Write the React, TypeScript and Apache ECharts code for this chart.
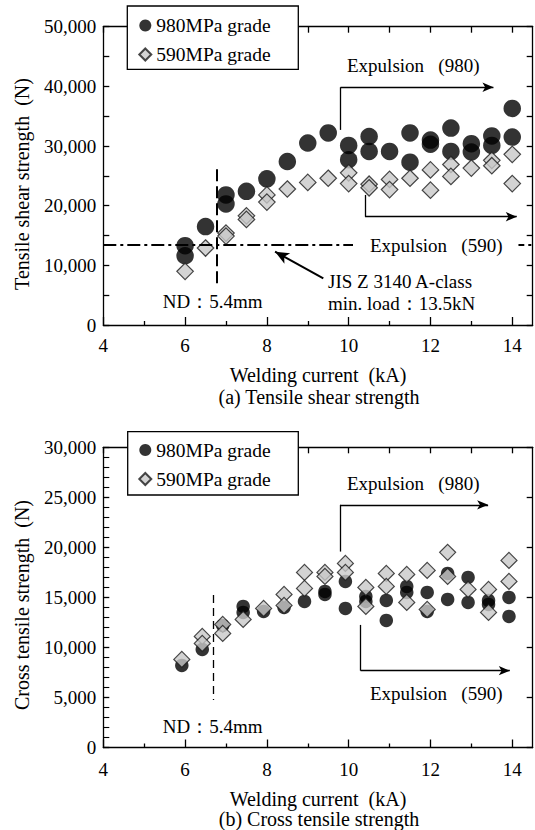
import React, { useEffect, useRef } from "react";
import * as echarts from "echarts";

const FONT = "Liberation Serif, Times New Roman, serif";

const currentMajorTicks = [4, 6, 8, 10, 12, 14];
const currentMinorTicks = [5, 7, 9, 11, 13];
const currentAllTicks = [4, 5, 6, 7, 8, 9, 10, 11, 12, 13, 14];
const tensileLabels = [0, 10000, 20000, 30000, 40000, 50000];
const crossLabels = [0, 5000, 10000, 15000, 20000, 25000, 30000];
const seriesNames = ["980MPa grade", "590MPa grade"];

// (a) Tensile shear strength: [welding current kA, load N]
const tensile980 = [
  [6.0, 13300], [6.0, 11600], [6.5, 16500], [7.0, 21800], [7.0, 20300],
  [7.5, 22400], [8.0, 24500], [8.5, 27400], [9.0, 30500], [9.5, 32200],
  [10.0, 30100], [10.0, 27700], [10.5, 31600], [10.5, 29100], [11.0, 29100],
  [11.5, 32200], [11.5, 27300], [12.0, 31000], [12.0, 30300], [12.5, 33000],
  [12.5, 29100], [13.0, 30400], [13.0, 29000], [13.5, 31700], [13.5, 30100],
  [14.0, 36300], [14.0, 31500],
];
const tensile590 = [
  [6.0, 9000], [6.5, 12900], [7.0, 15400], [7.0, 14900], [7.5, 18300],
  [7.5, 17700], [8.0, 21800], [8.0, 20600], [8.5, 22800], [9.0, 23900],
  [9.5, 24600], [10.0, 25500], [10.0, 23700], [10.5, 23600], [10.5, 23000],
  [11.0, 24400], [11.0, 22700], [11.5, 24600], [12.0, 26000], [12.0, 22600],
  [12.5, 26900], [12.5, 24900], [13.0, 26300], [13.5, 27600], [13.5, 26700],
  [14.0, 28600], [14.0, 23700],
];

// (b) Cross tensile strength
const cross980 = [
  [5.92, 8200], [6.42, 9800], [6.92, 12200], [7.42, 14100], [7.42, 13500],
  [7.92, 13600], [8.42, 14000], [8.92, 14600], [9.42, 15600], [9.42, 15300],
  [9.92, 16600], [9.92, 13900], [10.42, 15100], [10.42, 14600], [10.92, 14700],
  [10.92, 12700], [11.42, 16100], [11.42, 15500], [11.92, 15500], [11.92, 13600],
  [12.42, 14800], [12.42, 17400], [12.92, 17000], [12.92, 14500], [13.42, 14700],
  [13.42, 14300], [13.92, 15000], [13.92, 13100],
];
const cross590 = [
  [5.92, 8800], [6.42, 11100], [6.42, 10400], [6.92, 12300], [6.92, 11400],
  [7.42, 12800], [7.92, 13900], [8.42, 15300], [8.42, 14200], [8.92, 17500],
  [8.92, 15900], [9.42, 17500], [9.42, 17100], [9.92, 18400], [9.92, 17500],
  [10.42, 16000], [10.42, 14100], [10.92, 17400], [10.92, 16100], [11.42, 17300],
  [11.42, 14500], [11.92, 17700], [11.92, 13800], [12.42, 19500], [12.42, 17100],
  [12.92, 15800], [13.42, 15800], [13.42, 13500], [13.92, 18700], [13.92, 16600],
];

// annotation anchors (data coordinates)
const tensileMinLoad = 13500;
const tensileND = { x: 6.77, y0: 26100, y1: 7000 };
const tensileExp980 = { x: 9.8, y0: 32700, y1: 39850, xEnd: 13.54 };
const tensileExp590 = { x: 10.4, y0: 21800, y1: 18150, xEnd: 14.11 };
const tensileJisArrow = { x0: 9.38, y0: 7830, x1: 8.2, y1: 12290 };
const crossND = { x: 6.69, y0: 15250, y1: 4750 };
const crossExp980 = { x: 9.79, y0: 19580, y1: 24250, xEnd: 13.41 };
const crossExp590 = { x: 10.29, y0: 12250, y1: 7680, xEnd: 13.94 };

const black = "#000";

function seg(a: number[], b: number[], style: any, arrow = false, arrowSize = [7, 11]) {
  return [
    { coord: a, symbol: "none", lineStyle: style },
    { coord: b, symbol: arrow ? "arrow" : "none", symbolSize: arrowSize, lineStyle: style },
  ];
}

function xAxes(gridIndex: number) {
  const base = {
    type: "value",
    gridIndex,
    min: 4,
    max: 14.5,
    splitLine: { show: false },
  };
  return [
    {
      ...base,
      position: "bottom",
      axisLine: { show: true, onZero: false, lineStyle: { color: black, width: 1.3 } },
      axisTick: { show: true, inside: true, length: 8, customValues: currentMajorTicks, lineStyle: { color: black, width: 1.3 } },
      axisLabel: { show: true, customValues: currentMajorTicks, margin: gridIndex === 0 ? 11 : 12, fontSize: 19, fontFamily: FONT, color: black },
    },
    {
      ...base,
      position: "bottom",
      axisLine: { show: false },
      axisTick: { show: true, inside: true, length: 4, customValues: currentMinorTicks, lineStyle: { color: black, width: 1.3 } },
      axisLabel: { show: false },
    },
    {
      ...base,
      position: "top",
      axisLine: { show: true, onZero: false, lineStyle: { color: black, width: 1.3 } },
      axisTick: { show: true, inside: true, length: 6, customValues: currentAllTicks, lineStyle: { color: black, width: 1.3 } },
      axisLabel: { show: false },
    },
  ];
}

function yAxes(gridIndex: number, max: number, labels: number[], minorSplit: number, labelShift: number) {
  const base = {
    type: "value",
    gridIndex,
    min: 0,
    max,
    interval: 5000,
    splitLine: { show: false },
  };
  return [
    {
      ...base,
      position: "left",
      axisLine: { show: true, onZero: false, lineStyle: { color: black, width: 1.3 } },
      axisTick: { show: true, inside: true, length: 6, lineStyle: { color: black, width: 1.3 } },
      minorTick: { show: minorSplit > 0, splitNumber: minorSplit || 5, length: 6, lineStyle: { color: black, width: 1.1 } },
      axisLabel: {
        show: true,
        customValues: labels,
        margin: 7,
        fontSize: 19,
        fontFamily: FONT,
        color: black,
        padding: [labelShift, 0, 0, 0],
        formatter: (v: number) => v.toLocaleString("en-US"),
      },
    },
    {
      ...base,
      position: "right",
      axisLine: { show: true, onZero: false, lineStyle: { color: black, width: 1.3 } },
      axisTick: { show: true, inside: true, length: 6, lineStyle: { color: black, width: 1.3 } },
      axisLabel: { show: false },
    },
  ];
}

function txt(text: string, x: number, y: number, extra: any = {}) {
  const { align = "left", rotation = 0, fontSize = 19, bg, pad } = extra;
  const style: any = {
    text,
    fontSize,
    fontFamily: FONT,
    fill: black,
    align,
    verticalAlign: "middle",
  };
  if (bg) {
    style.backgroundColor = bg;
    style.padding = pad;
  }
  return { type: "text", x, y, rotation, z: 30, style };
}

function legendBox(x: number, y: number, w: number, h: number) {
  return {
    type: "rect",
    z: 10,
    shape: { x, y, width: w, height: h },
    style: { fill: "#fff", stroke: black, lineWidth: 1.3 },
  };
}

const diamondStyle = { color: "#c8c8c8", borderColor: "#1a1a1a", borderWidth: 1.2 };
const circleStyle = { color: "#000" };

function legendOpt(top: number) {
  return {
    data: seriesNames,
    orient: "vertical",
    left: 138.3,
    top,
    padding: 0,
    itemWidth: 12,
    itemHeight: 12,
    itemGap: 9,
    itemTextGap: 6,
    z: 20,
    selectedMode: false,
    textStyle: { fontSize: 19.5, fontFamily: FONT, color: black },
  };
}

export default function App() {
  const ref = useRef<HTMLDivElement>(null);
  useEffect(() => {
    if (!ref.current) return;
    const chart = echarts.init(ref.current, null, { renderer: "svg" });
    const gridW = 429.4;
    const option: any = {
      animation: false,
      backgroundColor: "#fff",
      textStyle: { fontFamily: FONT },
      grid: [
        { left: 103.3, top: 26.7, width: gridW, height: 298.3 },
        { left: 103.3, top: 447.3, width: gridW, height: 300.2 },
      ],
      xAxis: [...xAxes(0), ...xAxes(1)],
      yAxis: [...yAxes(0, 50000, tensileLabels, 0, 4), ...yAxes(1, 30000, crossLabels, 5, 9)],
      legend: [legendOpt(15.5), legendOpt(440)],
      series: [
        {
          name: seriesNames[0],
          type: "scatter",
          xAxisIndex: 0,
          yAxisIndex: 0,
          symbol: "circle",
          symbolSize: 17.5,
          itemStyle: circleStyle,
          data: tensile980,
          markLine: {
            silent: true,
            symbol: ["none", "none"],
            label: { show: false },
            emphasis: { disabled: true },
            data: [
              seg([4, tensileMinLoad], [14.5, tensileMinLoad], { color: black, width: 2, type: [13, 4, 3, 4] }),
              seg([tensileND.x, tensileND.y0], [tensileND.x, tensileND.y1], { color: black, width: 2, type: [12, 5] }),
              seg([tensileExp980.x, tensileExp980.y0], [tensileExp980.x, tensileExp980.y1], { color: black, width: 1.3, type: "solid" }),
              seg([tensileExp980.x, tensileExp980.y1], [tensileExp980.xEnd, tensileExp980.y1], { color: black, width: 1.3, type: "solid" }, true),
              seg([tensileExp590.x, tensileExp590.y0], [tensileExp590.x, tensileExp590.y1], { color: black, width: 1.3, type: "solid" }),
              seg([tensileExp590.x, tensileExp590.y1], [tensileExp590.xEnd, tensileExp590.y1], { color: black, width: 1.3, type: "solid" }, true),
              seg([tensileJisArrow.x0, tensileJisArrow.y0], [tensileJisArrow.x1, tensileJisArrow.y1], { color: black, width: 2, type: "solid" }, true, [9, 14]),
            ],
          },
        },
        {
          name: seriesNames[1],
          type: "scatter",
          xAxisIndex: 0,
          yAxisIndex: 0,
          symbol: "diamond",
          symbolSize: 16.5,
          itemStyle: diamondStyle,
          data: tensile590,
        },
        {
          name: seriesNames[0],
          type: "scatter",
          xAxisIndex: 3,
          yAxisIndex: 2,
          symbol: "circle",
          symbolSize: 13.5,
          itemStyle: circleStyle,
          data: cross980,
          markLine: {
            silent: true,
            symbol: ["none", "none"],
            label: { show: false },
            emphasis: { disabled: true },
            data: [
              seg([crossND.x, crossND.y0], [crossND.x, crossND.y1], { color: black, width: 1.3, type: [8, 5] }),
              seg([crossExp980.x, crossExp980.y0], [crossExp980.x, crossExp980.y1], { color: black, width: 1.3, type: "solid" }),
              seg([crossExp980.x, crossExp980.y1], [crossExp980.xEnd, crossExp980.y1], { color: black, width: 1.3, type: "solid" }, true),
              seg([crossExp590.x, crossExp590.y0], [crossExp590.x, crossExp590.y1], { color: black, width: 1.3, type: "solid" }),
              seg([crossExp590.x, crossExp590.y1], [crossExp590.xEnd, crossExp590.y1], { color: black, width: 1.3, type: "solid" }, true),
            ],
          },
        },
        {
          name: seriesNames[1],
          type: "scatter",
          xAxisIndex: 3,
          yAxisIndex: 2,
          symbol: "diamond",
          symbolSize: 16,
          itemStyle: diamondStyle,
          data: cross590,
        },
      ],
      graphic: [
        legendBox(127.3, 6, 171, 63.3),
        legendBox(127.7, 431.7, 170.6, 63.3),
        txt("Expulsion\u2002 (980)", 347, 65),
        txt("Expulsion\u2002 (590)", 353, 245, { bg: "#fff", pad: [2, 16, 2, 17] }),
        txt("JIS Z 3140 A-class", 328, 281.7),
        txt("min. load\uFF1A13.5kN", 328, 303),
        txt("ND\uFF1A5.4mm", 162.7, 301.7),
        txt("Welding current\u2002(kA)", 318, 375, { align: "center", fontSize: 20 }),
        txt("(a) Tensile shear strength", 319, 397, { align: "center", fontSize: 20 }),
        txt("Tensile shear strength\u2002(N)", 21.7, 184, { align: "center", fontSize: 20, rotation: Math.PI / 2 }),
        txt("Expulsion\u2002 (980)", 347, 483.3),
        txt("Expulsion\u2002 (590)", 370, 693.3),
        txt("ND\uFF1A5.4mm", 162.7, 726.7),
        txt("Welding current\u2002(kA)", 318, 798.5, { align: "center", fontSize: 20 }),
        txt("(b) Cross tensile strength", 319, 818.5, { align: "center", fontSize: 20 }),
        txt("Cross tensile strength\u2002(N)", 21.7, 605, { align: "center", fontSize: 20, rotation: Math.PI / 2 }),
      ],
    };
    chart.setOption(option);
    return () => chart.dispose();
  }, []);
  return (
    <div
      ref={ref}
      style={{ position: "fixed", left: 0, top: 0, width: 535, height: 830, background: "#fff" }}
    />
  );
}
